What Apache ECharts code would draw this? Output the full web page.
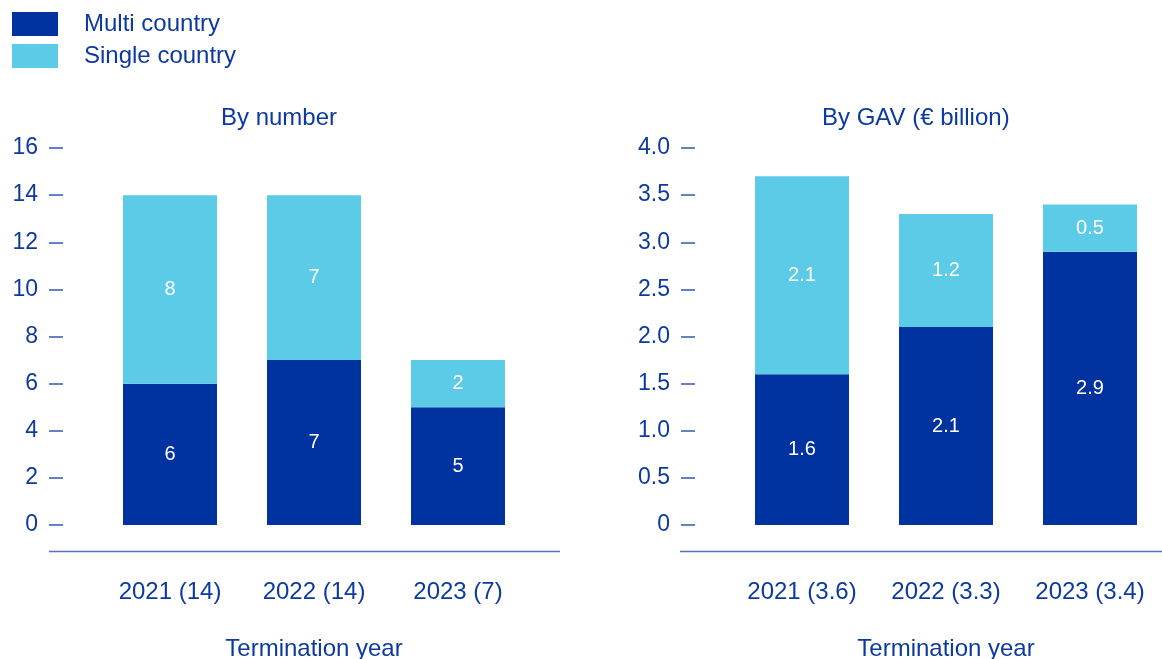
<!DOCTYPE html>
<html>
<head>
<meta charset="utf-8">
<script src="https://cdn.jsdelivr.net/npm/echarts@6/dist/echarts.min.js"></script>
<style>
    html, body { margin: 0; padding: 0; background: #fff; }
    #main { width: 1162px; height: 659px; }
</style>
</head>
<body>
<div id="main"></div>
<script>
// 数据
var numCategories = ["2021 (14)", "2022 (14)", "2023 (7)"];
var numMulti = [6, 7, 5];
var numSingle = [8, 7, 2];
var gavCategories = ["2021 (3.6)", "2022 (3.3)", "2023 (3.4)"];
var gavMulti = [1.6, 2.1, 2.9];
var gavSingle = [2.1, 1.2, 0.5];

(function () {
    var myChart = echarts.init(document.getElementById("main"));
    var textColor = "#0d3a9e";
    var darkBlue = "#0033a0";
    var lightBlue = "#5bcbe8";
    var font = "Liberation Sans, Arial, sans-serif";

    // y轴公共样式
    function makeY(gridIndex, max, interval, fmt) {
        return {
            type: "value",
            gridIndex: gridIndex,
            min: 0,
            max: max,
            interval: interval,
            offset: 35,
            axisLine: { show: false },
            axisTick: {
                show: true,
                length: 14,
                lineStyle: { color: "#3458b0", width: 1.5 },
            },
            splitLine: { show: false },
            axisLabel: {
                color: textColor,
                fontSize: 23,
                fontFamily: font,
                margin: 25,
                padding: [5, 0, 0, 0],
                formatter: fmt,
            },
        };
    }
    function makeX(gridIndex, data) {
        return {
            type: "category",
            gridIndex: gridIndex,
            data: data,
            axisLine: { show: false },
            axisTick: { show: false },
            axisLabel: {
                color: textColor,
                fontSize: 24,
                fontFamily: font,
                margin: 55,
            },
            name: "Termination year",
            nameLocation: "middle",
            nameGap: 112,
            nameTextStyle: { color: textColor, fontSize: 24, fontFamily: font },
        };
    }
    function bar(name, xi, data, color, fmt) {
        return {
            name: name,
            type: "bar",
            stack: "s" + xi,
            xAxisIndex: xi,
            yAxisIndex: xi,
            barWidth: 94,
            data: data,
            itemStyle: { color: color },
            label: {
                show: true,
                position: "inside",
                color: "#fff",
                fontSize: 20,
                fontFamily: font,
                padding: [4, 0, 0, 0],
                formatter: fmt,
            },
        };
    }

    var option = {
        animation: false,
        legend: {
            orient: "vertical",
            left: 12,
            top: 12,
            padding: 0,
            itemWidth: 46,
            itemHeight: 24,
            itemGap: 8,
            icon: "rect",
            data: ["Multi country", "Single country"],
            textStyle: {
                color: textColor,
                fontSize: 24,
                fontFamily: font,
                padding: [4, 0, 0, 21],
            },
        },
        title: [
            {
                text: "By number",
                left: 221,
                top: 106,
                padding: 0,
                textStyle: { color: textColor, fontSize: 24, fontWeight: "normal", fontFamily: font },
            },
            {
                text: "By GAV (€ billion)",
                left: 822,
                top: 106,
                padding: 0,
                textStyle: { color: textColor, fontSize: 24, fontWeight: "normal", fontFamily: font },
            },
        ],
        grid: [
            { left: 98, width: 432, top: 148, bottom: 134, outerBoundsMode: "none" },
            { left: 730, width: 432, top: 148, bottom: 134, outerBoundsMode: "none" },
        ],
        xAxis: [makeX(0, numCategories), makeX(1, gavCategories)],
        yAxis: [
            makeY(0, 16, 2, function (v) { return v; }),
            makeY(1, 4, 0.5, function (v) { return v === 0 ? "0" : v.toFixed(1); }),
        ],
        // 底部横线
        graphic: [
            {
                type: "line",
                shape: { x1: 49, y1: 551.5, x2: 560, y2: 551.5 },
                style: { stroke: "#5472c4", lineWidth: 1.5 },
            },
            {
                type: "line",
                shape: { x1: 680, y1: 551.5, x2: 1162, y2: 551.5 },
                style: { stroke: "#5472c4", lineWidth: 1.5 },
            },
        ],
        series: [
            bar("Multi country", 0, numMulti, darkBlue, "{c}"),
            bar("Single country", 0, numSingle, lightBlue, "{c}"),
            bar("Multi country", 1, gavMulti, darkBlue, function (p) { return p.value.toFixed(1); }),
            bar("Single country", 1, gavSingle, lightBlue, function (p) { return p.value.toFixed(1); }),
        ],
    };
    myChart.setOption(option);
    window.addEventListener("resize", function () {
        myChart.resize();
    });
})();
</script>
</body>
</html>
